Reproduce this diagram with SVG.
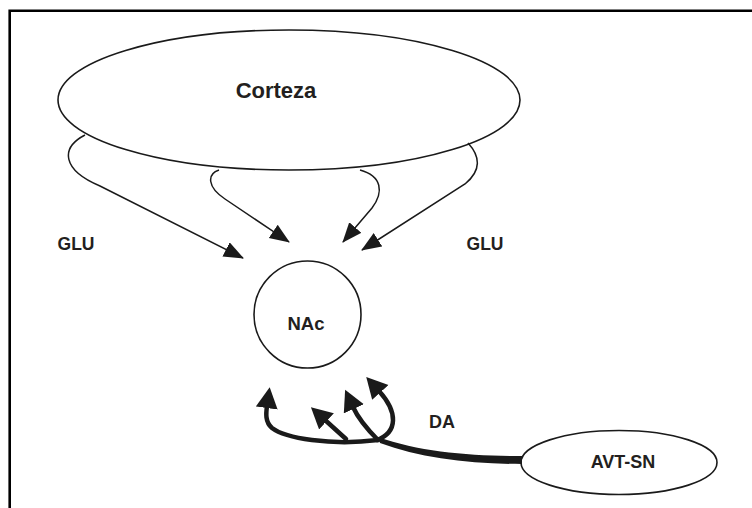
<svg xmlns="http://www.w3.org/2000/svg" width="752" height="508" viewBox="0 0 752 508">
<style>
.node{fill:#fff;stroke:#1a1a1a;stroke-width:1.6}
.lbl{font-family:"Liberation Sans",Arial,sans-serif;font-weight:bold;fill:#231f20;text-anchor:middle}
.thin{fill:none;stroke:#1a1a1a;stroke-width:1.5}
.thick{fill:none;stroke:#1a1a1a;stroke-width:4.5;stroke-linecap:round}
</style>
<defs>
<marker id="ah" markerUnits="userSpaceOnUse" markerWidth="22" markerHeight="18" refX="19" refY="8" orient="auto">
<path d="M0,0 L20,8 L0,16 z" fill="#1a1a1a"/>
</marker>
<marker id="bh" markerUnits="userSpaceOnUse" markerWidth="24" markerHeight="24" refX="2" refY="11" orient="auto">
<path d="M0,0 L21,11 L0,22 z" fill="#1a1a1a"/>
</marker>
</defs>
<rect width="752" height="508" fill="#fff"/>
<path d="M9.7,508 V10.7 H752" fill="none" stroke="#000" stroke-width="2.6"/>
<g id="corteza">
<ellipse class="node" cx="289" cy="100" rx="231" ry="70"/>
<text class="lbl" x="276" y="98" font-size="22">Corteza</text>
</g>
<g id="nac">
<circle class="node" cx="307.5" cy="314.5" r="53.5"/>
<text class="lbl" x="306" y="330" font-size="18.5">NAc</text>
</g>
<g id="avt-sn">
<ellipse class="node" cx="619" cy="462.5" rx="98" ry="32"/>
<text class="lbl" x="623" y="468" font-size="18">AVT-SN</text>
</g>
<g id="labels">
<text class="lbl" x="76" y="250" font-size="17.5">GLU</text>
<text class="lbl" x="485" y="250" font-size="17.5">GLU</text>
<text class="lbl" x="442" y="428" font-size="18">DA</text>
</g>
<g id="connectors">
<path class="thin" d="M85,135 C60,148 62,170 100,186 L243,258" marker-end="url(#ah)"/>
<path class="thin" d="M219,170 C207,174 207,187 225,199 L289,242" marker-end="url(#ah)"/>
<path class="thin" d="M360,170 C382,176 384,192 372,208 L343,242" marker-end="url(#ah)"/>
<path class="thin" d="M468,143 C480,156 482,170 465,184 L362,250" marker-end="url(#ah)"/>
<path d="M522,456 C470,456 420,452 378,437 L380,443 C420,458 470,464 522,464 z" fill="#1a1a1a"/>
<path class="thick" d="M378,440 C330,446 285,438 272,428 C265,422 266,413 267,406" marker-end="url(#bh)"/>
<path class="thick" d="M346,439 L325,420" marker-end="url(#bh)"/>
<path class="thick" d="M378,440 C368,430 358,418 353,407" marker-end="url(#bh)"/>
<path class="thick" d="M377,440 C398,432 398,412 379,391" marker-end="url(#bh)"/>
</g>
</svg>
